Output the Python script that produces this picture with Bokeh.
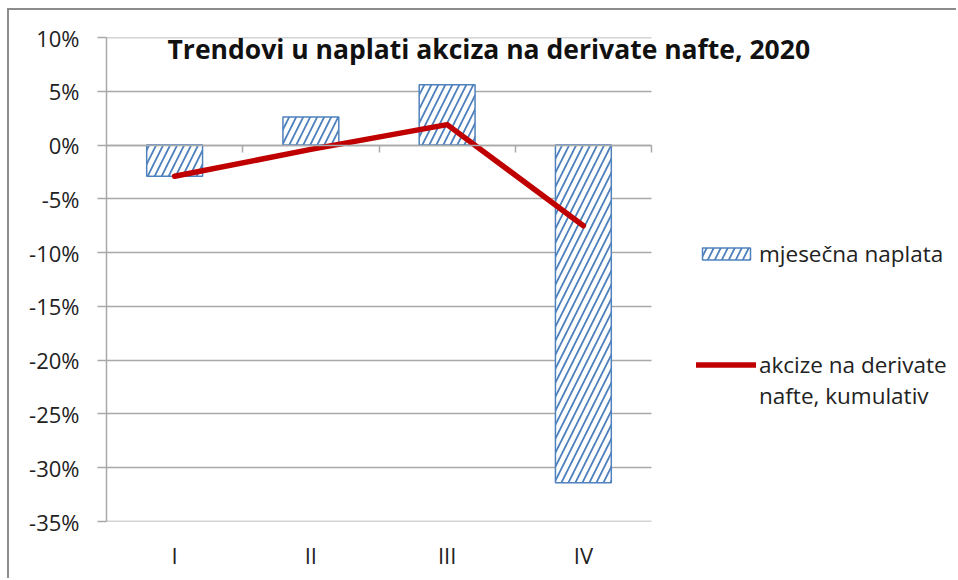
from bokeh.plotting import figure
from bokeh.models import (FixedTicker, LinearAxis, PrintfTickFormatter, Legend,
                          LegendItem, Label)
from bokeh.embed import file_html
from bokeh.resources import INLINE

# ---- data ----
categories = ["I", "II", "III", "IV"]
monthly = [-2.9, 2.6, 5.6, -31.4]          # mjesečna naplata (%)
cumulative = [-2.9, -0.4, 1.9, -7.5]       # akcize na derivate nafte, kumulativ (%)
y_ticks = [-35, -30, -25, -20, -15, -10, -5, 0, 5, 10]
chart_title = "Trendovi u naplati akciza na derivate nafte, 2020"
bar_label = "mjesečna naplata"
line_label = "\nakcize na derivate\nnafte, kumulativ"

FONT = "Open Sans"
TXT = "#222222"
GRID = "#a9a9a9"
BLUE = "#4f81bd"
RED = "#c00000"

# ---- layout (pixels) ----
W, H = 949, 570
LEFT, TOP, BOTTOM = 97, 27, 59
PLOT_W = 545                      # width of the category area
FRAME_W = W - LEFT
FRAME_H = H - TOP - BOTTOM
n = len(categories)
x_end = n * FRAME_W / PLOT_W      # frame extends right to hold title/legend

xs = [i + 0.5 for i in range(n)]
boundaries = [i + 1 for i in range(n)]

p = figure(width=W, height=H,
           x_range=(0, x_end), y_range=(y_ticks[0], y_ticks[-1]),
           output_backend="svg", toolbar_location=None,
           min_border_left=LEFT, min_border_right=0,
           min_border_top=TOP, min_border_bottom=BOTTOM,
           outline_line_color=None,
           styles={"border-left": "2px solid #8c8c8c",
                   "border-top": "2px solid #8c8c8c",
                   "margin-left": "7px",
                   "margin-top": "8px"})

# x axis with category labels (at the bottom)
xa = p.xaxis[0]
xa.ticker = FixedTicker(ticks=xs)
xa.major_label_overrides = {x: c for x, c in zip(xs, categories)}
xa.axis_line_color = None
xa.major_tick_line_color = None
xa.minor_tick_line_color = None
xa.major_label_standoff = 12
xa.major_label_text_font = FONT
xa.major_label_text_font_size = "22px"
xa.major_label_text_color = TXT
p.xgrid.visible = False
p.ygrid.visible = False

# category axis line crossing at 0 with tick marks between categories
za = LinearAxis(fixed_location=0, bounds=(0, n),
                ticker=FixedTicker(ticks=boundaries),
                major_label_overrides={b: "" for b in boundaries},
                major_tick_in=0, major_tick_out=7,
                axis_line_color=GRID, axis_line_width=1.5,
                major_tick_line_color=GRID, major_tick_line_width=1.5,
                minor_tick_line_color=None)
p.add_layout(za, "below")

# y axis with labels
ya = p.yaxis[0]
ya.ticker = FixedTicker(ticks=y_ticks)
ya.formatter = PrintfTickFormatter(format="%d%%")
ya.axis_line_color = GRID
ya.axis_line_width = 1.5
ya.major_tick_line_color = GRID
ya.major_tick_line_width = 1.5
ya.major_tick_in = 0
ya.major_tick_out = 9
ya.minor_tick_line_color = None
ya.major_label_standoff = 18
ya.major_label_text_font = FONT
ya.major_label_text_font_size = "22px"
ya.major_label_text_color = TXT

# gridlines: an underlay value axis whose ticks span the category area only
ga = LinearAxis(fixed_location=0, level="underlay",
                ticker=FixedTicker(ticks=y_ticks),
                major_label_overrides={t: "" for t in y_ticks},
                axis_line_color=None,
                major_tick_in=PLOT_W, major_tick_out=0,
                major_tick_line_color=GRID, major_tick_line_width=1.5,
                minor_tick_line_color=None)
p.add_layout(ga, "left")

bars = p.vbar(x=xs, top=monthly, bottom=0, width=0.41,
              fill_color="white", line_color=BLUE, line_width=1.5,
              hatch_pattern="/", hatch_color=BLUE, hatch_scale=14, hatch_weight=1.8)

line = p.line(xs, cumulative, line_color=RED, line_width=5.5,
              line_cap="round", line_join="round")

# chart title inside the plot area
y_per_px = (y_ticks[-1] - y_ticks[0]) / FRAME_H
p.add_layout(Label(x=61 * n / PLOT_W, y=y_ticks[-1] - 11 * y_per_px,
                   text=chart_title, text_font=FONT, text_font_style="bold",
                   text_font_size="26.5px", text_align="left",
                   text_baseline="alphabetic", text_color="#111111"))

legend = Legend(items=[LegendItem(label=bar_label, renderers=[bars]),
                       LegendItem(label=line_label, renderers=[line])],
                location=(590, 110), orientation="vertical",
                label_text_font=FONT, label_text_font_size="22.5px",
                label_text_color=TXT, glyph_width=60, glyph_height=15,
                label_standoff=3, padding=0, margin=0, spacing=49,
                border_line_color=None, background_fill_alpha=0)
p.add_layout(legend, "center")

open("out.html", "w").write(file_html(p, INLINE))
